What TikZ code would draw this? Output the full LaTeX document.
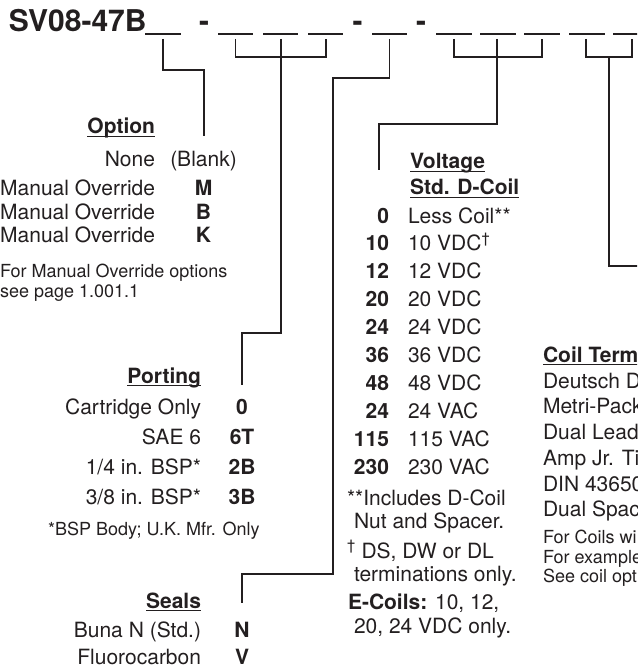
\documentclass[tikz,border=0pt]{standalone}
\usepackage{fontspec}
\setmainfont{TeX Gyre Heros}
\definecolor{ink}{RGB}{35,31,32}
\newcommand\ulin[1]{\setbox0\hbox{#1}\rlap{\rule[-3.4pt]{\wd0}{1.6pt}}\box0}
\tikzset{
  conn/.style={draw=ink, line width=1.5pt},
  blank/.style={draw=ink, line width=1.7pt},
  txt/.style={inner sep=0pt, outer sep=0pt, text=ink, font=\fontsize{21}{24}\selectfont},
  codetxt/.style={txt, font=\fontsize{21}{24}\selectfont\bfseries},
  notetxt/.style={txt, font=\fontsize{18}{20}\selectfont},
  bigtxt/.style={txt, font=\fontsize{30}{32}\selectfont\bfseries},
}
\begin{document}
\begin{tikzpicture}[x=1pt,y=-1pt]
\useasboundingbox (0,0) rectangle (637,668);
\clip (0,0) rectangle (637,668);

% ---- title line
\node[bigtxt, anchor=base west] (title) at (9,32) {SV08-47B};
\node[bigtxt, anchor=base] (h1) at (204,32) {-};
\node[bigtxt, anchor=base] (h2) at (357.5,32) {-};
\node[bigtxt, anchor=base] (h3) at (421,32) {-};
\foreach \a/\b in {145/181, 218/253, 263/298, 308/343, 372/407, 436/472, 480/516, 524/560, 569/605, 613/650}
  \draw[blank] (\a,34) -- (\b,34);

% blank coordinates
\coordinate (b1) at (163,39);
\coordinate (b2) at (235.5,39);
\coordinate (b3) at (281,39);
\coordinate (b4) at (326,39);
\coordinate (b5) at (389.5,39);
\coordinate (b6) at (454,39);
\coordinate (b7) at (497,39);
\coordinate (b8) at (542,39);
\coordinate (b9) at (586,39);
\coordinate (b10) at (632,39);

% ---- Option
\node[codetxt, anchor=base east] (opthead) at (155,134) {\ulin{Option}};
\node[txt, anchor=base east] (opt1) at (155,167) {None};
\node[txt, anchor=base] (optc1) at (203.5,167) {(Blank)};
\node[txt, anchor=base east] (opt2) at (155,196) {Manual Override};
\node[codetxt, anchor=base] (optc2) at (203.5,196) {M};
\node[txt, anchor=base east] (opt3) at (155,219) {Manual Override};
\node[codetxt, anchor=base] (optc3) at (203.5,219) {B};
\node[txt, anchor=base east] (opt4) at (155,242) {Manual Override};
\node[codetxt, anchor=base] (optc4) at (203.5,242) {K};
\node[notetxt, anchor=base west] (optn1) at (0,277) {For Manual Override options};
\node[notetxt, anchor=base west] (optn2) at (0,297) {see page 1.001.1};

% ---- Porting
\node[codetxt, anchor=base east] (porthead) at (201,383) {\ulin{Porting}};
\node[txt, anchor=base east] (port1) at (201,414) {Cartridge Only};
\node[codetxt, anchor=base] (portc1) at (242,414) {0};
\node[txt, anchor=base east] (port2) at (201,444) {SAE 6};
\node[codetxt, anchor=base] (portc2) at (242,444) {6T};
\node[txt, anchor=base east] (port3) at (201,474) {1/4 in. BSP*};
\node[codetxt, anchor=base] (portc3) at (242,474) {2B};
\node[txt, anchor=base east] (port4) at (201,504) {3/8 in. BSP*};
\node[codetxt, anchor=base] (portc4) at (242,504) {3B};
\node[notetxt, anchor=base west] (portn) at (48,535) {*BSP Body; U.K. Mfr. Only};

% ---- Seals
\node[codetxt, anchor=base east] (sealhead) at (201,608) {\ulin{Seals}};
\node[txt, anchor=base east] (seal1) at (201,637) {Buna N (Std.)};
\node[codetxt, anchor=base] (sealc1) at (242,637) {N};
\node[txt, anchor=base east] (seal2) at (201,664) {Fluorocarbon};
\node[codetxt, anchor=base] (sealc2) at (242,664) {V};

% ---- Voltage
\node[codetxt, anchor=base west] (volthead1) at (410,169) {\ulin{Voltage}};
\node[codetxt, anchor=base west] (volthead2) at (410,195) {\ulin{Std. D-Coil}};
\foreach \c/\d [count=\i from 0] in {0/Less Coil**, 10/10 VDC\textsuperscript{†}, 12/12 VDC, 20/20 VDC, 24/24 VDC, 36/36 VDC, 48/48 VDC, 24/24 VAC, 115/115 VAC, 230/230 VAC}{
  \node[codetxt, anchor=base east] (vc\i) at (389,223+27.9*\i) {\c};
  \node[txt, anchor=base west] (vd\i) at (408,223+27.9*\i) {\d};
}
\node[txt, anchor=base west] (vn1) at (347,505) {**Includes D-Coil};
\node[txt, anchor=base west] (vn2) at (354,528) {Nut and Spacer.};
\node[txt, anchor=base west] (vn3) at (347,558) {\textsuperscript{†} DS, DW or DL};
\node[txt, anchor=base west] (vn4) at (354,581) {terminations only.};
\node[txt, anchor=base west] (vn5) at (348,609) {\textbf{E-Coils:} 10, 12,};
\node[txt, anchor=base west] (vn6) at (354,633) {20, 24 VDC only.};

% ---- Coil termination (cut at right edge)
\node[codetxt, anchor=base west] (coilhead) at (543,362) {\ulin{Coil Term}};
\node[txt, anchor=base west] (coil1) at (543,388) {Deutsch D};
\node[txt, anchor=base west] (coil2) at (543,413) {Metri-Pack};
\node[txt, anchor=base west] (coil3) at (543,439) {Dual Lead};
\node[txt, anchor=base west] (coil4) at (543,465) {Amp Jr. Ti};
\node[txt, anchor=base west] (coil5) at (543,491) {DIN 43650};
\node[txt, anchor=base west] (coil6) at (543,516) {Dual Spac};
\node[notetxt, anchor=base west] (coiln1) at (543,543) {For Coils wi};
\node[notetxt, anchor=base west] (coiln2) at (543,563) {For example};
\node[notetxt, anchor=base west] (coiln3) at (543,582) {See coil opt};

% ---- connector bend points
\coordinate (o1) at (204,70);
\coordinate (oend) at (204,136);
\coordinate (pj) at (281,57);
\coordinate (p1) at (281,333);
\coordinate (pend) at (242,385);
\coordinate (s1) at (333,78);
\coordinate (s2) at (333,574);
\coordinate (send) at (242,603);
\coordinate (vj) at (497,57);
\coordinate (v1) at (379,124);
\coordinate (vend) at (379,170);
\coordinate (cj) at (609,57);
\coordinate (cend) at (640,266);

% ---- connectors
\draw[conn] (b1) |- (o1) -- (oend);
\draw[conn] (b2) |- (pj) -| (b4);
\draw[conn] (b3) -- (p1) -| (pend);
\draw[conn] (b5) |- (s1) -- (s2) -| (send);
\draw[conn] (b6) |- (vj) -| (b8);
\draw[conn] (b7) |- (v1) -- (vend);
\draw[conn] (b9) |- (cj) -| (b10);
\draw[conn] (cj) |- (cend);
\end{tikzpicture}
\end{document}
